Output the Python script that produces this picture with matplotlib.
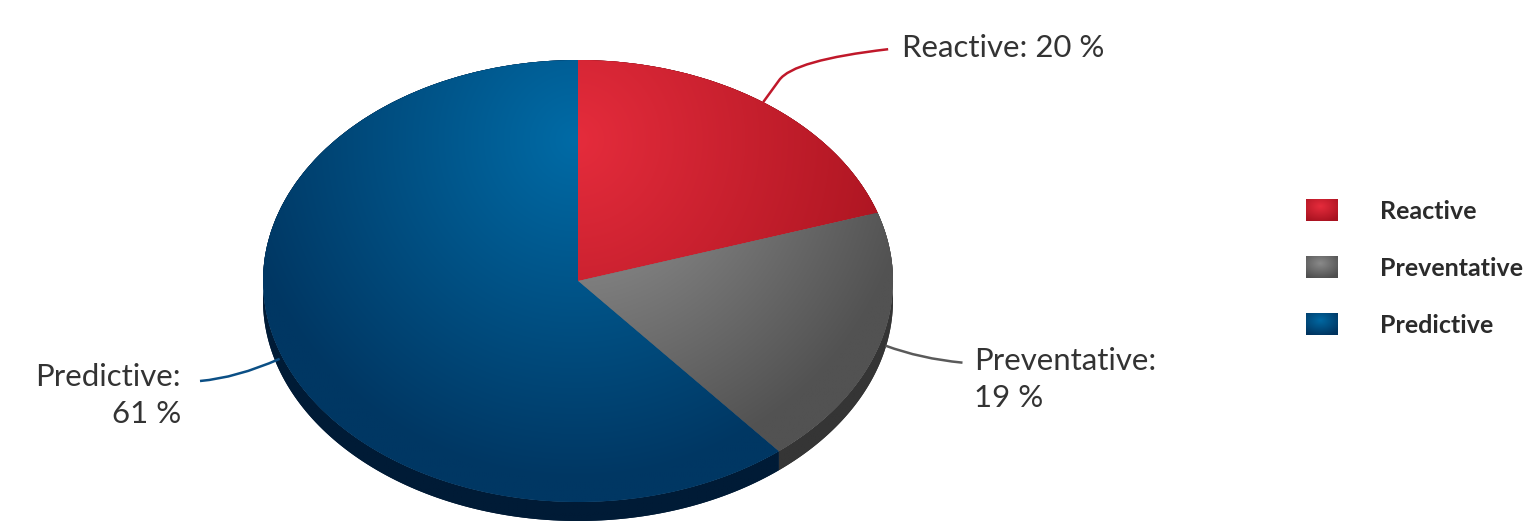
import numpy as np
import matplotlib
matplotlib.use('Agg')
import matplotlib.pyplot as plt
from matplotlib.path import Path
from matplotlib.patches import PathPatch, Polygon
from matplotlib.colors import to_rgb

# ---- data ----
labels = ['Reactive', 'Preventative', 'Predictive']
values = [20, 19, 61]
top_light = ['#E52C3C', '#9C9C9C', '#006BA6']
top_dark = ['#AA1420', '#525252', '#003763']
side_light = ['#8A0E18', '#484848', '#00305A']
side_dark = ['#6A0A12', '#353535', '#001B36']
swatch_light = ['#E62C3C', '#8A8A8A', '#0068A2']
swatch_dark = ['#A81220', '#4E4E4E', '#00335E']
line_colors = ['#C0182A', '#5A5A5A', '#0B4F85']

W, H = 1525, 523
CX, CY, RX, RY, DEPTH = 578, 281, 315, 221, 19
GC = (575, 140)
GS = 340.0

fig = plt.figure(figsize=(W / 100, H / 100), dpi=100)
axp = fig.add_axes([0, 0, 1, 1])
axp.axis('off')

xlim = (-CX / RX, (W - CX) / RX)
ylim = (-(H - CY) / RY, CY / RY)

top_w, _ = axp.pie(values, startangle=90, counterclock=False, radius=1,
                   center=(0, 0), colors=top_dark,
                   wedgeprops=dict(linewidth=0))

# gradient grid
gx = np.linspace(-1.02, 1.02, 500)
gy = np.linspace(-1.15, 1.02, 500)
GX, GY = np.meshgrid(gx, gy)
PX = CX + GX * RX
PY = CY - GY * RY
T = np.clip(np.hypot(PX - GC[0], PY - GC[1]) / GS, 0, 1)[..., None]


def grad_img(c1, c2, t):
    a = np.array(to_rgb(c1))
    b = np.array(to_rgb(c2))
    return a * (1 - t) + b * t


d = DEPTH / RY
for i, w in enumerate(top_w):
    # extruded side of the slice
    th = np.radians(np.linspace(w.theta1, w.theta2, 200))
    upper = np.column_stack([np.cos(th), np.sin(th)])
    lower = upper[::-1] - [0, d]
    side = Polygon(np.vstack([upper, lower]), closed=True, facecolor=side_dark[i],
                   edgecolor='none', zorder=1)
    axp.add_patch(side)
    im = axp.imshow(grad_img(side_light[i], side_dark[i], T), extent=(gx[0], gx[-1], gy[0], gy[-1]),
                    origin='lower', aspect='auto', zorder=1.5, interpolation='bilinear')
    im.set_clip_path(side)
for i, w in enumerate(top_w):
    w.set_zorder(2)
    im = axp.imshow(grad_img(top_light[i], top_dark[i], T), extent=(gx[0], gx[-1], gy[0], gy[-1]),
                    origin='lower', aspect='auto', zorder=2.5, interpolation='bilinear')
    im.set_clip_path(w)

axp.set_aspect('auto')
axp.set_xlim(*xlim)
axp.set_ylim(*ylim)

# ---- overlay axis in pixel coords ----
axt = fig.add_axes([0, 0, 1, 1], facecolor='none')
axt.set_xlim(0, W)
axt.set_ylim(H, 0)
axt.axis('off')

TXT = '#333333'
FS = 22.4
font = 'Lato'

# anchors from slice mid angles
cum = np.cumsum([0] + values[:-1])
mids = [90 - 360 * (c + v / 2) / 100 for c, v in zip(cum, values)]
anchors = [(CX + RX * np.cos(np.radians(m)), CY - RY * np.sin(np.radians(m))) for m in mids]


def curve(pts, codes, color):
    axt.add_patch(PathPatch(Path(pts, codes), facecolor='none', edgecolor=color, lw=1.8, zorder=5))


# Reactive
ax0, ay0 = anchors[0]
curve([(ax0, ay0), (ax0 + 16, ay0 - 22), (ax0 + 30, ay0 - 42), (ax0 + 125, ay0 - 53)],
      [Path.MOVETO, Path.LINETO, Path.CURVE3, Path.CURVE3], line_colors[0])
axt.text(ax0 + 139, 57, f'{labels[0]}: {values[0]} %', fontsize=FS, family=font, color=TXT, va='baseline', ha='left')

# Preventative
ax1, ay1 = anchors[1]
curve([(ax1 + 5, ay1 + 3), (ax1 + 40, ay1 + 16), (ax1 + 82, ay1 + 20)],
      [Path.MOVETO, Path.CURVE3, Path.CURVE3], line_colors[1])
axt.text(974, 370, f'{labels[1]}:', fontsize=FS, family=font, color=TXT, va='baseline', ha='left')
axt.text(974, 407, f'{values[1]} %', fontsize=FS, family=font, color=TXT, va='baseline', ha='left')

# Predictive
ax2, ay2 = anchors[2]
curve([(ax2 - 2, ay2 + 3), (ax2 - 45, ay2 + 22), (200, 381)],
      [Path.MOVETO, Path.CURVE3, Path.CURVE3], line_colors[2])
axt.text(181, 386, f'{labels[2]}:', fontsize=FS, family=font, color=TXT, va='baseline', ha='right')
axt.text(181, 423, f'{values[2]} %', fontsize=FS, family=font, color=TXT, va='baseline', ha='right')

# ---- legend ----
sx = np.linspace(-1, 1, 40)
sy = np.linspace(-1, 1, 28)
SX, SY = np.meshgrid(sx, sy)
ST = np.clip(np.hypot(SX + 0.1, SY + 0.35) / 1.5, 0, 1)[..., None]
for i, lab in enumerate(labels):
    y0 = 199 + 57 * i
    axt.imshow(grad_img(swatch_light[i], swatch_dark[i], ST), extent=(1306, 1338, y0 + 22, y0),
               origin='upper', aspect='auto', zorder=4, interpolation='bilinear')
    axt.text(1380, 219 + 57 * i, lab, fontsize=18, family=font, weight='bold', color='#2B2B2B',
             va='baseline', ha='left')
axt.set_xlim(0, W)
axt.set_ylim(H, 0)

fig.savefig('out.png', dpi=100)
